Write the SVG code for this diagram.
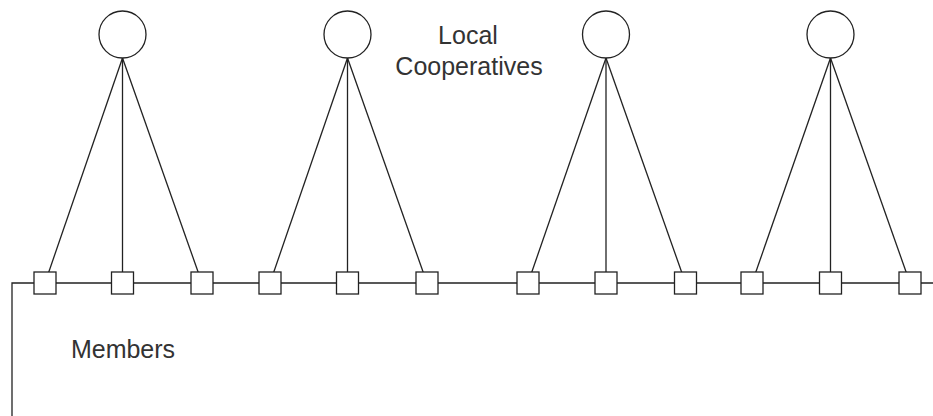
<svg xmlns="http://www.w3.org/2000/svg" width="933" height="416" viewBox="0 0 933 416">
  <style>
    .edge { stroke: #222; stroke-width: 1.3; fill: none; }
    .coop { fill: #fff; stroke: #222; stroke-width: 1.3; }
    .member { fill: #fff; stroke: #222; stroke-width: 1.3; }
    .label { font-family: "Liberation Sans", Arial, sans-serif; font-size: 25px; fill: #333; text-anchor: middle; }
  </style>
  <defs>
    <rect id="sq" x="-11" y="-11" width="22" height="22"/>
  </defs>
  <rect width="933" height="416" fill="#fff"/>

  <!-- connectors: member bus and cooperative links -->
  <g id="connectors" class="edge">
    <polyline points="12,416 12,283 933,283"/>
    <line x1="122.5" y1="58" x2="45" y2="283"/>
    <line x1="122.5" y1="58" x2="122.5" y2="283"/>
    <line x1="122.5" y1="58" x2="202" y2="283"/>
    <line x1="347.5" y1="58" x2="270" y2="283"/>
    <line x1="347.5" y1="58" x2="347.5" y2="283"/>
    <line x1="347.5" y1="58" x2="427" y2="283"/>
    <line x1="606" y1="58" x2="528" y2="283"/>
    <line x1="606" y1="58" x2="606" y2="283"/>
    <line x1="606" y1="58" x2="685.5" y2="283"/>
    <line x1="830.5" y1="58" x2="752" y2="283"/>
    <line x1="830.5" y1="58" x2="830.5" y2="283"/>
    <line x1="830.5" y1="58" x2="910" y2="283"/>
  </g>

  <!-- local cooperatives -->
  <g id="coop1"><circle class="coop" cx="122.5" cy="34.5" r="23.5"/></g>
  <g id="coop2"><circle class="coop" cx="347.5" cy="34.5" r="23.5"/></g>
  <g id="coop3"><circle class="coop" cx="606" cy="34.5" r="23.5"/></g>
  <g id="coop4"><circle class="coop" cx="830.5" cy="34.5" r="23.5"/></g>

  <!-- members -->
  <g id="member1"><use href="#sq" class="member" x="45" y="283"/></g>
  <g id="member2"><use href="#sq" class="member" x="122.5" y="283"/></g>
  <g id="member3"><use href="#sq" class="member" x="202" y="283"/></g>
  <g id="member4"><use href="#sq" class="member" x="270" y="283"/></g>
  <g id="member5"><use href="#sq" class="member" x="347.5" y="283"/></g>
  <g id="member6"><use href="#sq" class="member" x="427" y="283"/></g>
  <g id="member7"><use href="#sq" class="member" x="528" y="283"/></g>
  <g id="member8"><use href="#sq" class="member" x="606" y="283"/></g>
  <g id="member9"><use href="#sq" class="member" x="685.5" y="283"/></g>
  <g id="member10"><use href="#sq" class="member" x="752" y="283"/></g>
  <g id="member11"><use href="#sq" class="member" x="830.5" y="283"/></g>
  <g id="member12"><use href="#sq" class="member" x="910" y="283"/></g>

  <!-- labels -->
  <g id="label-coops">
    <text class="label" x="468" y="44">Local</text>
    <text class="label" x="469" y="75">Cooperatives</text>
  </g>
  <g id="label-members">
    <text class="label" x="123" y="358">Members</text>
  </g>
</svg>
